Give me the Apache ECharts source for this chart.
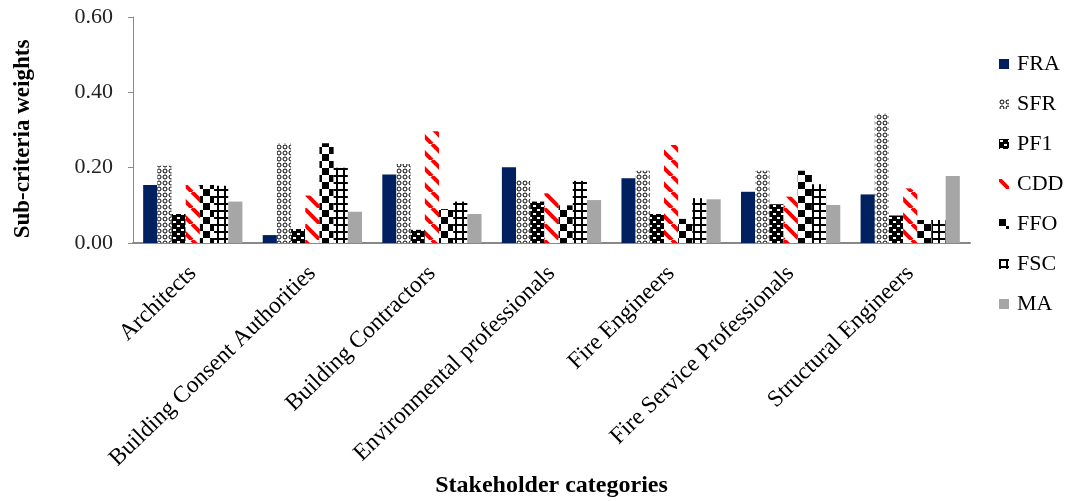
<!DOCTYPE html>
<html>
<head>
<meta charset="utf-8">
<script src="https://cdn.jsdelivr.net/npm/echarts@6/dist/echarts.min.js"></script>
<style>
  html, body { margin: 0; padding: 0; background: #fff; }
  #chart { width: 1073px; height: 501px; }
</style>
</head>
<body>
<div id="chart"></div>
<script>
// data
var categories = ['Architects', 'Building Consent Authorities', 'Building Contractors',
    'Environmental professionals', 'Fire Engineers', 'Fire Service Professionals', 'Structural Engineers'];
var seriesNames = ['FRA', 'SFR', 'PF1', 'CDD', 'FFO', 'FSC', 'MA'];
var FRA = [0.154, 0.021, 0.182, 0.201, 0.172, 0.136, 0.129];
var SFR = [0.205, 0.265, 0.210, 0.167, 0.192, 0.192, 0.344];
var PF1 = [0.077, 0.037, 0.035, 0.110, 0.077, 0.103, 0.073];
var CDD = [0.154, 0.126, 0.297, 0.132, 0.260, 0.123, 0.145];
var FFO = [0.154, 0.265, 0.090, 0.100, 0.064, 0.192, 0.061];
var FSC = [0.152, 0.200, 0.110, 0.165, 0.119, 0.156, 0.061];
var MA  = [0.110, 0.083, 0.077, 0.114, 0.116, 0.101, 0.178];
var yTicks = [0, 0.2, 0.4, 0.6];

// little canvas tiles for the hatched fills
function tile(w, h, draw) {
    var c = document.createElement('canvas');
    c.width = w; c.height = h;
    var ctx = c.getContext('2d');
    ctx.fillStyle = '#fff';
    ctx.fillRect(0, 0, w, h);
    draw(ctx);
    return { image: c, repeat: 'repeat' };
}

var fills = {
    FRA: '#002060',
    SFR: tile(6, 6, function (ctx) {
        ctx.strokeStyle = '#000';
        ctx.lineWidth = 1;
        ctx.beginPath();
        ctx.arc(3, 3, 2, 0, Math.PI * 2);
        ctx.stroke();
    }),
    PF1: tile(8, 8, function (ctx) {
        ctx.fillStyle = '#000';
        ctx.fillRect(0, 0, 8, 8);
        ctx.fillStyle = '#fff';
        ctx.fillRect(1, 1, 3, 2);
        ctx.fillRect(5, 5, 3, 2);
    }),
    CDD: tile(16, 16, function (ctx) {
        ctx.strokeStyle = '#ff0000';
        ctx.lineWidth = 4;
        [-16, 0, 16].forEach(function (k) {
            ctx.beginPath();
            ctx.moveTo(k, 0);
            ctx.lineTo(k + 16, 16);
            ctx.stroke();
        });
    }),
    FFO: tile(14, 14, function (ctx) {
        ctx.fillStyle = '#000';
        ctx.fillRect(0, 0, 7, 7);
        ctx.fillRect(7, 7, 7, 7);
    }),
    FSC: tile(7, 7, function (ctx) {
        ctx.fillStyle = '#000';
        ctx.fillRect(0, 0, 2, 7);
        ctx.fillRect(0, 0, 7, 2);
    }),
    MA: '#a6a6a6'
};

var values = { FRA: FRA, SFR: SFR, PF1: PF1, CDD: CDD, FFO: FFO, FSC: FSC, MA: MA };
var serif = 'Liberation Serif, Times New Roman, serif';

var mychart = echarts.init(document.getElementById('chart'));
var option = {
    animation: false,
    grid: { left: 133, right: 103, top: 17, bottom: 258 },
    legend: {
        orient: 'vertical',
        left: 994,
        top: 48,
        itemWidth: 10,
        itemHeight: 10,
        itemGap: 18,
        icon: 'rect',
        textStyle: { fontFamily: serif, fontSize: 22, color: '#000', padding: [0, 0, 0, 3] },
        data: seriesNames
    },
    xAxis: {
        type: 'category',
        data: categories,
        name: 'Stakeholder categories',
        nameLocation: 'middle',
        nameGap: 230,
        nameTextStyle: { fontFamily: serif, fontSize: 24, fontWeight: 'bold', color: '#000' },
        axisLine: { lineStyle: { color: '#888', width: 2 } },
        axisTick: { show: false },
        axisLabel: {
            interval: 0,
            rotate: 44,
            margin: 27,
            fontFamily: serif,
            fontSize: 23.5,
            color: '#000'
        }
    },
    yAxis: {
        type: 'value',
        min: yTicks[0],
        max: yTicks[yTicks.length - 1],
        interval: 0.2,
        name: 'Sub-criteria weights',
        nameLocation: 'middle',
        nameRotate: 90,
        nameGap: 98,
        nameTextStyle: { fontFamily: serif, fontSize: 23, fontWeight: 'bold', color: '#000', padding: [0, 18, 0, 0] },
        splitLine: { show: false },
        axisLine: { show: true, lineStyle: { color: '#888', width: 1 } },
        axisTick: { show: true, length: 5, lineStyle: { color: '#888' } },
        axisLabel: {
            fontFamily: serif,
            fontSize: 22,
            color: '#222',
            margin: 20,
            formatter: function (v) { return v.toFixed(2); }
        }
    },
    series: seriesNames.map(function (name) {
        return {
            name: name,
            type: 'bar',
            data: values[name],
            barGap: '0%',
            barCategoryGap: '17%',
            itemStyle: { color: fills[name] }
        };
    })
};
mychart.setOption(option);
</script>
</body>
</html>
